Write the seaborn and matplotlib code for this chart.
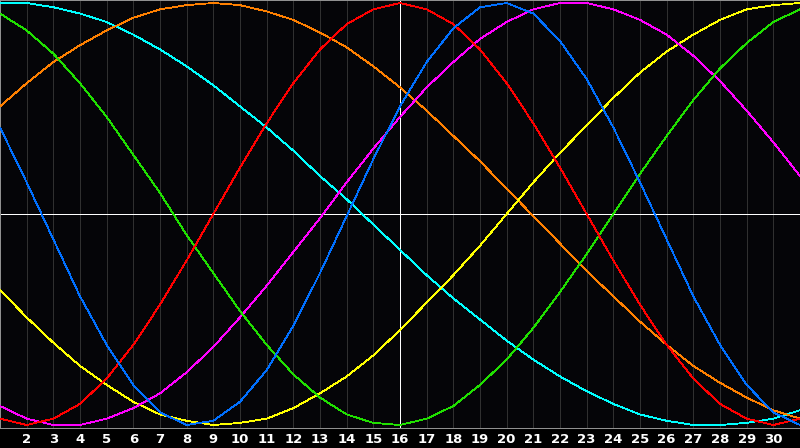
import numpy as np
import pandas as pd
import matplotlib
matplotlib.use("Agg")
import matplotlib.pyplot as plt
import seaborn as sns

days = list(range(1, 32))
tick_days = list(range(2, 31))
tick_labels = [str(d) for d in tick_days]
today = 16

blue = [0.41, 0.15, -0.12, -0.39, -0.62, -0.81, -0.94, -1.00, -0.98, -0.89, -0.74, -0.53, -0.28, -0.01, 0.26, 0.51, 0.72, 0.88, 0.98, 1.00, 0.95, 0.82, 0.64, 0.41, 0.15, -0.12, -0.39, -0.62, -0.81, -0.94, -1.00]
red = [-0.97, -1.00, -0.97, -0.90, -0.78, -0.62, -0.43, -0.22, 0.00, 0.22, 0.43, 0.62, 0.78, 0.90, 0.97, 1.00, 0.97, 0.90, 0.78, 0.62, 0.43, 0.22, 0.00, -0.22, -0.43, -0.62, -0.78, -0.90, -0.97, -1.00, -0.97]
green = [0.95, 0.87, 0.76, 0.62, 0.46, 0.28, 0.10, -0.10, -0.28, -0.46, -0.62, -0.76, -0.87, -0.95, -0.99, -1.00, -0.97, -0.91, -0.81, -0.69, -0.54, -0.37, -0.19, 0.00, 0.19, 0.37, 0.54, 0.69, 0.81, 0.91, 0.97]
magenta = [-0.91, -0.97, -1.00, -1.00, -0.97, -0.92, -0.85, -0.75, -0.63, -0.49, -0.34, -0.18, -0.02, 0.15, 0.31, 0.46, 0.60, 0.72, 0.83, 0.91, 0.97, 1.00, 1.00, 0.97, 0.92, 0.85, 0.75, 0.63, 0.49, 0.34, 0.18]
yellow = [-0.36, -0.49, -0.61, -0.72, -0.81, -0.89, -0.95, -0.98, -1.00, -0.99, -0.97, -0.92, -0.85, -0.77, -0.67, -0.55, -0.42, -0.29, -0.15, 0.00, 0.15, 0.29, 0.42, 0.55, 0.67, 0.77, 0.85, 0.92, 0.97, 0.99, 1.00]
orange = [0.51, 0.62, 0.72, 0.80, 0.87, 0.93, 0.97, 0.99, 1.00, 0.99, 0.96, 0.92, 0.86, 0.79, 0.70, 0.60, 0.49, 0.37, 0.25, 0.12, -0.01, -0.14, -0.27, -0.39, -0.51, -0.62, -0.72, -0.80, -0.87, -0.93, -0.97]
cyan = [1.00, 1.00, 0.98, 0.95, 0.91, 0.85, 0.78, 0.70, 0.61, 0.51, 0.41, 0.30, 0.18, 0.07, -0.05, -0.17, -0.29, -0.40, -0.50, -0.60, -0.69, -0.77, -0.84, -0.90, -0.95, -0.98, -1.00, -1.00, -0.99, -0.97, -0.93]

series = {"cyan": cyan, "orange": orange, "yellow": yellow, "magenta": magenta,
          "green": green, "red": red, "blue": blue}
palette = {"cyan": "#00ffff", "orange": "#ff8000", "yellow": "#ffff00", "magenta": "#ff00ff",
           "green": "#20e000", "red": "#ff0000", "blue": "#0070ff"}

df = pd.concat([pd.DataFrame({"day": days, "value": v, "cycle": k}) for k, v in series.items()],
               ignore_index=True)

sns.set_style("dark")
plt.rcParams["font.family"] = ["DejaVu Sans"]

fig = plt.figure(figsize=(8, 4.48), dpi=100, facecolor="#000000")
ax = fig.add_axes([0, 20 / 448, 1, 428 / 448])
ax.set_facecolor("#050508")

for d in tick_days:
    ax.axvline(d, color="#303030", lw=0.72, antialiased=False, zorder=1)

ax.axhline(0, color="#ffffff", lw=0.72, antialiased=False, zorder=2)
ax.axvline(today, color="#ffffff", lw=0.72, antialiased=False, zorder=2)

n_before = len(ax.lines)
sns.lineplot(data=df, x="day", y="value", hue="cycle", palette=palette, legend=False,
             ax=ax, zorder=3)
for ln in ax.lines[n_before:]:
    ln.set_linewidth(0.6)
    ln.set_antialiased(False)
    ln.set_solid_joinstyle("miter")

ax.set_xlim(1, 31)
ax.set_ylim(-214 / 211, 214 / 211)
ax.set_xticks(tick_days)
ax.set_xticklabels(tick_labels, color="white", fontsize=9.5, fontweight="bold")
ax.set_yticks([])
ax.tick_params(axis="x", length=0, pad=3.5)
ax.set_xlabel("")
ax.set_ylabel("")
ax.grid(False)
for s in ax.spines.values():
    s.set_visible(True)
    s.set_color("#909090")
    s.set_linewidth(0.72)

fig.savefig("out.png", dpi=100, facecolor="#000000")
